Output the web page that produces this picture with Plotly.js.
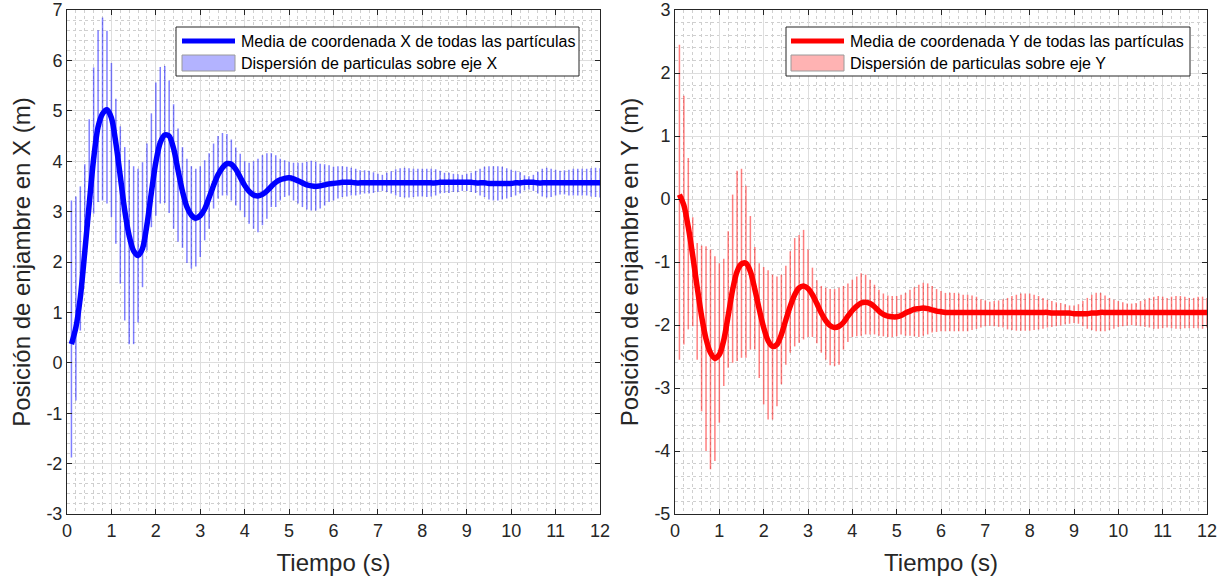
<!DOCTYPE html>
<html><head><meta charset="utf-8">
<script src="https://cdn.plot.ly/plotly-3.0.1.min.js"></script>
<style>html,body{margin:0;padding:0;background:#fff}#chart{width:1230px;height:583px}</style>
</head><body><div id="chart"></div>
<script>
// ---------- DATA ----------
const tiempo = [
0.1,0.2,0.3,0.4,0.5,0.6,0.7,0.8,0.9,1.0,
1.1,1.2,1.3,1.4,1.5,1.6,1.7,1.8,1.9,2.0,
2.1,2.2,2.3,2.4,2.5,2.6,2.7,2.8,2.9,3.0,
3.1,3.2,3.3,3.4,3.5,3.6,3.7,3.8,3.9,4.0,
4.1,4.2,4.3,4.4,4.5,4.6,4.7,4.8,4.9,5.0,
5.1,5.2,5.3,5.4,5.5,5.6,5.7,5.8,5.9,6.0,
6.1,6.2,6.3,6.4,6.5,6.6,6.7,6.8,6.9,7.0,
7.1,7.2,7.3,7.4,7.5,7.6,7.7,7.8,7.9,8.0,
8.1,8.2,8.3,8.4,8.5,8.6,8.7,8.8,8.9,9.0,
9.1,9.2,9.3,9.4,9.5,9.6,9.7,9.8,9.9,10.0,
10.1,10.2,10.3,10.4,10.5,10.6,10.7,10.8,10.9,11.0,
11.1,11.2,11.3,11.4,11.5,11.6,11.7,11.8,11.9,12.0];

const mediaX = [
0.37,0.70,1.30,2.20,3.15,4.05,4.68,4.94,5.02,4.86,
4.36,3.70,3.02,2.52,2.22,2.13,2.27,2.74,3.38,3.98,
4.37,4.52,4.50,4.25,3.82,3.40,3.09,2.93,2.87,2.92,
3.05,3.28,3.52,3.73,3.87,3.95,3.94,3.84,3.68,3.52,
3.40,3.33,3.31,3.34,3.41,3.50,3.58,3.63,3.66,3.67,
3.65,3.61,3.57,3.53,3.51,3.50,3.51,3.53,3.55,3.56,
3.57,3.58,3.58,3.58,3.57,3.57,3.57,3.57,3.57,3.57,
3.57,3.57,3.57,3.57,3.57,3.57,3.57,3.57,3.57,3.57,
3.57,3.57,3.57,3.58,3.58,3.58,3.58,3.58,3.58,3.58,
3.58,3.57,3.57,3.57,3.56,3.56,3.56,3.56,3.56,3.56,
3.57,3.57,3.58,3.58,3.58,3.57,3.57,3.57,3.57,3.57,
3.57,3.57,3.57,3.57,3.57,3.57,3.57,3.57,3.57,3.57];

const maxX = [
3.22,3.30,3.50,3.94,4.83,5.86,6.60,6.85,6.59,5.95,
5.24,4.69,4.28,4.03,3.90,3.85,3.98,4.35,4.95,5.56,
5.87,5.89,5.60,5.13,4.65,4.28,4.05,3.90,3.85,3.90,
4.02,4.16,4.35,4.50,4.56,4.54,4.43,4.27,4.15,4.00,
3.97,4.00,4.05,4.12,4.16,4.16,4.12,4.05,4.02,3.99,
3.97,3.97,3.97,3.99,4.01,3.99,3.95,3.94,3.92,3.89,
3.90,3.90,3.89,3.87,3.85,3.82,3.82,3.81,3.78,3.75,
3.73,3.77,3.80,3.84,3.86,3.87,3.86,3.85,3.85,3.85,
3.85,3.85,3.84,3.81,3.77,3.77,3.75,3.74,3.73,3.75,
3.77,3.81,3.85,3.89,3.90,3.90,3.90,3.89,3.86,3.83,
3.81,3.78,3.72,3.70,3.73,3.79,3.85,3.87,3.85,3.83,
3.81,3.82,3.83,3.85,3.85,3.85,3.85,3.86,3.87,3.86];

const minX = [
-1.88,-0.75,0.64,2.00,2.70,2.96,3.19,3.22,3.16,2.89,
2.36,1.57,0.84,0.37,0.37,0.80,1.50,2.23,2.69,2.92,
3.16,3.17,2.97,2.66,2.40,2.28,1.98,1.87,1.91,2.10,
2.43,2.66,3.06,3.26,3.32,3.32,3.22,3.12,3.02,2.89,
2.76,2.66,2.59,2.73,2.86,3.09,3.09,3.22,3.29,3.32,
3.22,3.16,3.09,3.04,3.02,3.02,3.06,3.12,3.19,3.22,
3.26,3.29,3.30,3.32,3.32,3.34,3.36,3.36,3.37,3.39,
3.41,3.39,3.36,3.32,3.29,3.28,3.28,3.29,3.30,3.30,
3.29,3.30,3.32,3.36,3.37,3.37,3.39,3.39,3.41,3.41,
3.39,3.37,3.32,3.29,3.24,3.22,3.22,3.24,3.26,3.29,
3.32,3.36,3.42,3.44,3.41,3.36,3.30,3.28,3.29,3.32,
3.34,3.34,3.32,3.32,3.32,3.32,3.32,3.30,3.29,3.28];

const mediaY = [
0.07,-0.10,-0.45,-0.90,-1.40,-1.86,-2.22,-2.44,-2.53,-2.47,
-2.24,-1.85,-1.44,-1.15,-1.03,-1.02,-1.15,-1.43,-1.75,-2.04,
-2.25,-2.34,-2.31,-2.15,-1.92,-1.70,-1.52,-1.41,-1.38,-1.42,
-1.52,-1.66,-1.81,-1.93,-2.01,-2.04,-2.02,-1.96,-1.86,-1.77,
-1.70,-1.65,-1.64,-1.66,-1.71,-1.78,-1.83,-1.86,-1.87,-1.87,
-1.85,-1.81,-1.78,-1.75,-1.74,-1.73,-1.74,-1.76,-1.78,-1.79,
-1.80,-1.80,-1.80,-1.80,-1.80,-1.80,-1.80,-1.80,-1.80,-1.80,
-1.80,-1.80,-1.80,-1.80,-1.80,-1.80,-1.80,-1.80,-1.80,-1.80,
-1.80,-1.80,-1.80,-1.80,-1.81,-1.81,-1.81,-1.81,-1.81,-1.82,
-1.82,-1.82,-1.82,-1.81,-1.81,-1.80,-1.80,-1.80,-1.80,-1.80,
-1.80,-1.80,-1.80,-1.80,-1.80,-1.80,-1.80,-1.80,-1.80,-1.80,
-1.80,-1.80,-1.80,-1.80,-1.80,-1.80,-1.80,-1.80,-1.80,-1.80];

const maxY = [
2.45,1.64,0.65,-0.29,-0.70,-0.74,-0.75,-0.80,-0.91,-1.02,
-0.95,-0.51,0.07,0.45,0.48,0.21,-0.27,-0.76,-1.02,-1.08,
-1.13,-1.20,-1.23,-1.20,-1.06,-0.83,-0.62,-0.57,-0.49,-0.80,
-1.09,-1.29,-1.38,-1.41,-1.43,-1.43,-1.41,-1.38,-1.34,-1.28,
-1.23,-1.18,-1.20,-1.28,-1.36,-1.44,-1.50,-1.53,-1.54,-1.54,
-1.52,-1.49,-1.44,-1.40,-1.36,-1.33,-1.34,-1.38,-1.43,-1.46,
-1.49,-1.49,-1.49,-1.50,-1.52,-1.52,-1.53,-1.55,-1.59,-1.61,
-1.63,-1.62,-1.61,-1.59,-1.57,-1.54,-1.52,-1.50,-1.50,-1.50,
-1.52,-1.54,-1.57,-1.60,-1.62,-1.64,-1.65,-1.67,-1.69,-1.69,
-1.67,-1.62,-1.57,-1.52,-1.49,-1.49,-1.53,-1.57,-1.60,-1.62,
-1.64,-1.66,-1.66,-1.65,-1.62,-1.60,-1.57,-1.55,-1.54,-1.55,
-1.57,-1.55,-1.54,-1.54,-1.55,-1.57,-1.57,-1.55,-1.55,-1.57];

const minY = [
-2.55,-2.31,-2.07,-2.02,-2.55,-3.37,-4.00,-4.29,-4.16,-3.55,
-2.97,-2.68,-2.60,-2.57,-2.52,-2.52,-2.39,-2.39,-2.84,-3.26,
-3.50,-3.50,-3.29,-2.94,-2.63,-2.44,-2.34,-2.28,-2.23,-2.19,
-2.19,-2.29,-2.44,-2.55,-2.64,-2.65,-2.63,-2.39,-2.27,-2.19,
-2.18,-2.17,-2.15,-2.15,-2.15,-2.17,-2.18,-2.19,-2.19,-2.18,
-2.15,-2.17,-2.17,-2.18,-2.19,-2.17,-2.15,-2.12,-2.11,-2.10,
-2.10,-2.10,-2.10,-2.10,-2.10,-2.10,-2.08,-2.06,-2.04,-2.02,
-2.01,-2.02,-2.03,-2.04,-2.07,-2.08,-2.09,-2.09,-2.09,-2.09,
-2.08,-2.07,-2.06,-2.04,-2.03,-2.02,-2.01,-1.99,-1.98,-1.97,
-1.98,-2.02,-2.06,-2.08,-2.10,-2.10,-2.10,-2.08,-2.06,-2.03,
-2.02,-2.01,-2.00,-2.01,-2.02,-2.03,-2.04,-2.06,-2.06,-2.05,
-2.04,-2.05,-2.06,-2.06,-2.05,-2.05,-2.05,-2.05,-2.06,-2.04];

const xTickVals = [0,1,2,3,4,5,6,7,8,9,10,11,12];
const xTickText = ['0','1','2','3','4','5','6','7','8','9','10','11','12'];
const yTickValsL = [-3,-2,-1,0,1,2,3,4,5,6,7];
const yTickTextL = ['-3','-2','-1','0','1','2','3','4','5','6','7'];
const yTickValsR = [-5,-4,-3,-2,-1,0,1,2,3];
const yTickTextR = ['-5','-4','-3','-2','-1','0','1','2','3'];

const tituloX = 'Tiempo (s)';
const tituloYL = 'Posición de enjambre en X (m)';
const tituloYR = 'Posición de enjambre en Y (m)';
const leyendaMediaX = 'Media de coordenada X de todas las partículas';
const leyendaDispX = 'Dispersión de particulas sobre eje X';
const leyendaMediaY = 'Media de coordenada Y de todas las partículas';
const leyendaDispY = 'Dispersión de particulas sobre eje Y';

// ---------- BUILD ----------
function segmentos(t, lo, hi) {
  const xs = [], ys = [];
  for (let i = 0; i < t.length; i++) {
    xs.push(t[i], t[i], null);
    ys.push(lo[i], hi[i], null);
  }
  return {xs, ys};
}
const sX = segmentos(tiempo, minX, maxX);
const sY = segmentos(tiempo, minY, maxY);

const traces = [
  {x: sX.xs, y: sX.ys, xaxis: 'x', yaxis: 'y', mode: 'lines', type: 'scatter',
   line: {color: 'rgba(0,0,255,0.5)', width: 1.5}, hoverinfo: 'skip', showlegend: false},
  {x: tiempo, y: mediaX, xaxis: 'x', yaxis: 'y', mode: 'lines', type: 'scatter',
   line: {color: '#0000ff', width: 5.5, shape: 'spline', smoothing: 0.8}, showlegend: false},
  {x: sY.xs, y: sY.ys, xaxis: 'x2', yaxis: 'y2', mode: 'lines', type: 'scatter',
   line: {color: 'rgba(255,0,0,0.5)', width: 1.5}, hoverinfo: 'skip', showlegend: false},
  {x: tiempo, y: mediaY, xaxis: 'x2', yaxis: 'y2', mode: 'lines', type: 'scatter',
   line: {color: '#ff0000', width: 5.5, shape: 'spline', smoothing: 0.8}, showlegend: false}
];

const W = 1230, H = 583;
const FONT = '"Liberation Sans", Arial, Helvetica, sans-serif';
const TXT = '#262626';
const px = v => v / W, py = v => 1 - v / H;

function eje(extra) {
  return Object.assign({
    showline: true, linecolor: TXT, linewidth: 1, mirror: 'ticks',
    ticks: 'inside', ticklen: 5, tickwidth: 1, tickcolor: TXT,
    showgrid: true, gridcolor: '#dedede', gridwidth: 1,
    zeroline: false, tickmode: 'array',
    tickfont: {family: FONT, size: 18, color: TXT},
    minor: {dtick: 0.2, showgrid: true, gridcolor: '#cfcfcf', griddash: 'dot', gridwidth: 1, ticks: ''},
    fixedrange: true
  }, extra);
}

const yTop = py(10), yBot = py(514);

function leyenda(x0, x1, y0, y1, xs0, xs1, color, fillc, t1, t2) {
  const shapes = [
    {type: 'rect', xref: 'paper', yref: 'paper', x0: px(x0), x1: px(x1), y0: py(y0), y1: py(y1),
     line: {color: '#262626', width: 1}, fillcolor: '#ffffff', layer: 'above'},
    {type: 'line', xref: 'paper', yref: 'paper', x0: px(xs0), x1: px(xs1), y0: py(y0 + 14), y1: py(y0 + 14),
     line: {color: color, width: 5}, layer: 'above'},
    {type: 'rect', xref: 'paper', yref: 'paper', x0: px(xs0), x1: px(xs1), y0: py(y0 + 28), y1: py(y0 + 44),
     line: {color: '#9a9a9a', width: 1}, fillcolor: fillc, layer: 'above'}
  ];
  const anns = [
    {xref: 'paper', yref: 'paper', x: px(xs1 + 4), y: py(y0 + 14), text: t1, showarrow: false,
     xanchor: 'left', yanchor: 'middle', font: {family: FONT, size: 16, color: '#000'}},
    {xref: 'paper', yref: 'paper', x: px(xs1 + 4), y: py(y0 + 36), text: t2, showarrow: false,
     xanchor: 'left', yanchor: 'middle', font: {family: FONT, size: 16, color: '#000'}}
  ];
  return {shapes, anns};
}
const LL = leyenda(176, 579, 27, 76, 182, 235, '#0000ff', '#b3b3ff', leyendaMediaX, leyendaDispX);
const LR = leyenda(786, 1190, 27, 76, 791, 844, '#ff0000', '#ffb3b3', leyendaMediaY, leyendaDispY);

const layout = {
  width: W, height: H,
  margin: {l: 0, r: 0, t: 0, b: 0},
  paper_bgcolor: '#ffffff', plot_bgcolor: '#ffffff',
  showlegend: false,
  font: {family: FONT, color: TXT},
  xaxis: eje({domain: [px(67), px(600)], range: [0, 12], anchor: 'y',
    tickvals: xTickVals, ticktext: xTickText,
    title: {text: tituloX, font: {family: FONT, size: 24, color: TXT}, standoff: 14}}),
  yaxis: eje({domain: [yBot, yTop], range: [-3, 7], anchor: 'x',
    tickvals: yTickValsL, ticktext: yTickTextL,
    title: {text: tituloYL, font: {family: FONT, size: 24, color: TXT}, standoff: 8}}),
  xaxis2: eje({domain: [px(675), px(1207)], range: [0, 12], anchor: 'y2',
    tickvals: xTickVals, ticktext: xTickText,
    title: {text: tituloX, font: {family: FONT, size: 24, color: TXT}, standoff: 14}}),
  yaxis2: eje({domain: [yBot, yTop], range: [-5, 3], anchor: 'x2',
    tickvals: yTickValsR, ticktext: yTickTextR,
    title: {text: tituloYR, font: {family: FONT, size: 24, color: TXT}, standoff: 8}}),
  shapes: LL.shapes.concat(LR.shapes),
  annotations: LL.anns.concat(LR.anns)
};

Plotly.newPlot('chart', traces, layout, {displayModeBar: false, staticPlot: true});
</script>
</body></html>
